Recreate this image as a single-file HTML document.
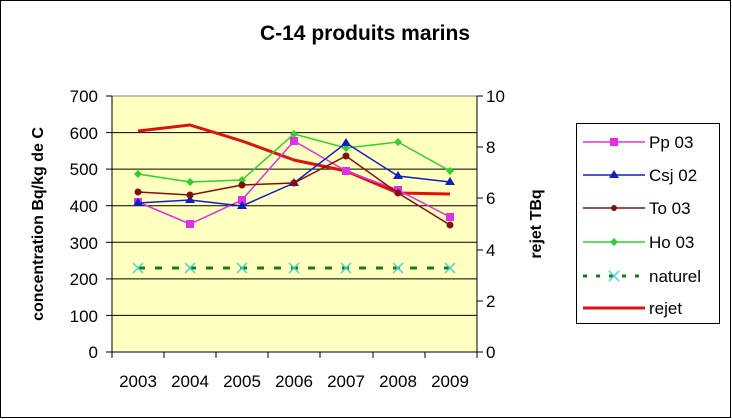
<!DOCTYPE html>
<html><head><meta charset="utf-8"><style>
body{margin:0;background:#fff;}
svg{display:block;font-family:"Liberation Sans",Arial,sans-serif;}
</style></head><body>
<svg width="732" height="419" viewBox="0 0 732 419">
<rect x="0.5" y="0.5" width="730" height="417" fill="#fff" stroke="#000"/>
<text x="365" y="40" font-size="21" font-weight="bold" text-anchor="middle">C-14 produits marins</text>
<rect x="112" y="96" width="365" height="256" fill="#ffffc0" stroke="#808080"/>
<g stroke="#000" stroke-width="1">
<line x1="112" y1="132.6" x2="477" y2="132.6"/><line x1="112" y1="169.1" x2="477" y2="169.1"/>
<line x1="112" y1="205.7" x2="477" y2="205.7"/><line x1="112" y1="242.3" x2="477" y2="242.3"/>
<line x1="112" y1="278.9" x2="477" y2="278.9"/><line x1="112" y1="315.4" x2="477" y2="315.4"/>
<line x1="112" y1="96" x2="112" y2="352"/><line x1="477" y1="96" x2="477" y2="352"/>
<line x1="112" y1="352" x2="477" y2="352"/>
<line x1="106" y1="96" x2="112" y2="96"/><line x1="106" y1="132.6" x2="112" y2="132.6"/><line x1="106" y1="169.1" x2="112" y2="169.1"/><line x1="106" y1="205.7" x2="112" y2="205.7"/><line x1="106" y1="242.3" x2="112" y2="242.3"/><line x1="106" y1="278.9" x2="112" y2="278.9"/><line x1="106" y1="315.4" x2="112" y2="315.4"/><line x1="106" y1="352" x2="112" y2="352"/>
<line x1="477" y1="96" x2="483" y2="96"/><line x1="477" y1="147" x2="483" y2="147"/><line x1="477" y1="198" x2="483" y2="198"/><line x1="477" y1="250" x2="483" y2="250"/><line x1="477" y1="301" x2="483" y2="301"/><line x1="477" y1="352" x2="483" y2="352"/>
<line x1="112" y1="352" x2="112" y2="358"/><line x1="164" y1="352" x2="164" y2="358"/><line x1="216" y1="352" x2="216" y2="358"/><line x1="268" y1="352" x2="268" y2="358"/><line x1="320" y1="352" x2="320" y2="358"/><line x1="373" y1="352" x2="373" y2="358"/><line x1="425" y1="352" x2="425" y2="358"/><line x1="477" y1="352" x2="477" y2="358"/>
</g>
<g font-size="17" text-anchor="end">
<text x="98" y="102">700</text><text x="98" y="139">600</text><text x="98" y="175">500</text><text x="98" y="212">400</text><text x="98" y="249">300</text><text x="98" y="285">200</text><text x="98" y="322">100</text><text x="98" y="358">0</text>
</g>
<g font-size="17">
<text x="486" y="102">10</text><text x="486" y="153">8</text><text x="486" y="204">6</text><text x="486" y="256">4</text><text x="486" y="307">2</text><text x="486" y="358">0</text>
</g>
<g font-size="17" text-anchor="middle">
<text x="138" y="387">2003</text><text x="190" y="387">2004</text><text x="242" y="387">2005</text><text x="294" y="387">2006</text><text x="346" y="387">2007</text><text x="398" y="387">2008</text><text x="450" y="387">2009</text>
</g>
<text transform="translate(43,224) rotate(-90)" font-size="16" font-weight="bold" text-anchor="middle">concentration Bq/kg de C</text>
<text transform="translate(541,224) rotate(-90)" font-size="16" font-weight="bold" text-anchor="middle">rejet TBq</text>
<!-- rejet -->
<polyline points="138,131 190,125 242,141 294,160 346,171 398,193 450,194" fill="none" stroke="#e01010" stroke-width="3" stroke-linejoin="round"/>
<!-- naturel -->
<line x1="138" y1="268" x2="450" y2="268" stroke="#1a7a1a" stroke-width="3" stroke-dasharray="7,10"/>
<g stroke="#40d8d0" stroke-width="1.5">
<path d="M133,263l10,10m0,-10l-10,10M185,263l10,10m0,-10l-10,10M237,263l10,10m0,-10l-10,10M289,263l10,10m0,-10l-10,10M341,263l10,10m0,-10l-10,10M393,263l10,10m0,-10l-10,10M445,263l10,10m0,-10l-10,10"/>
</g>
<!-- Ho -->
<polyline points="138,174 190,182 242,180 294,134 346,148 398,142 450,171" fill="none" stroke="#30d030" stroke-width="1.5"/>
<g fill="#30d030"><path d="M138,170l4,4-4,4-4-4zM190,178l4,4-4,4-4-4zM242,176l4,4-4,4-4-4zM294,130l4,4-4,4-4-4zM346,144l4,4-4,4-4-4zM398,138l4,4-4,4-4-4zM450,167l4,4-4,4-4-4z"/></g>
<!-- Pp -->
<polyline points="138,202 190,224 242,200 294,141 346,171 398,190 450,217" fill="none" stroke="#e030e0" stroke-width="1.5"/>
<g fill="#e030e0"><rect x="134" y="198" width="8" height="8"/><rect x="186" y="220" width="8" height="8"/><rect x="238" y="196" width="8" height="8"/><rect x="290" y="137" width="8" height="8"/><rect x="342" y="167" width="8" height="8"/><rect x="394" y="186" width="8" height="8"/><rect x="446" y="213" width="8" height="8"/></g>
<!-- Csj -->
<polyline points="138,203 190,200 242,206 294,183 346,143 398,176 450,182" fill="none" stroke="#1020c0" stroke-width="1.5"/>
<g fill="#1020c0"><path d="M138,198l5,8h-10zM190,195l5,8h-10zM242,201l5,8h-10zM294,178l5,8h-10zM346,138l5,8h-10zM398,171l5,8h-10zM450,177l5,8h-10z"/></g>
<!-- To -->
<polyline points="138,192 190,195 242,185 294,183 346,156 398,193 450,225" fill="none" stroke="#801010" stroke-width="1.5"/>
<g fill="#801010"><circle cx="138" cy="192" r="3.5"/><circle cx="190" cy="195" r="3.5"/><circle cx="242" cy="185" r="3.5"/><circle cx="294" cy="183" r="3.5"/><circle cx="346" cy="156" r="3.5"/><circle cx="398" cy="193" r="3.5"/><circle cx="450" cy="225" r="3.5"/></g>
<!-- legend -->
<rect x="576.5" y="123.5" width="143" height="200" fill="#fff" stroke="#000"/>
<g font-size="17">
<line x1="583" y1="142" x2="645" y2="142" stroke="#e030e0" stroke-width="1.5"/><rect x="610" y="138" width="8" height="8" fill="#e030e0"/><text x="649" y="148">Pp 03</text>
<line x1="583" y1="175" x2="645" y2="175" stroke="#1020c0" stroke-width="1.5"/><path d="M614,170l5,8h-10z" fill="#1020c0"/><text x="649" y="181">Csj 02</text>
<line x1="583" y1="208" x2="645" y2="208" stroke="#801010" stroke-width="1.5"/><circle cx="614" cy="208" r="3" fill="#801010"/><text x="649" y="214">To 03</text>
<line x1="583" y1="242" x2="645" y2="242" stroke="#30d030" stroke-width="1.5"/><path d="M614,238l4,4-4,4-4-4z" fill="#30d030"/><text x="649" y="248">Ho 03</text>
<line x1="583" y1="276" x2="645" y2="276" stroke="#1a7a1a" stroke-width="3" stroke-dasharray="4,9"/><path d="M609,271l10,10m0,-10l-10,10" stroke="#40d8d0" stroke-width="1.5"/><text x="649" y="282">naturel</text>
<line x1="583" y1="308" x2="645" y2="308" stroke="#e01010" stroke-width="3"/><text x="649" y="314">rejet</text>
</g>
</svg>
</body></html>
